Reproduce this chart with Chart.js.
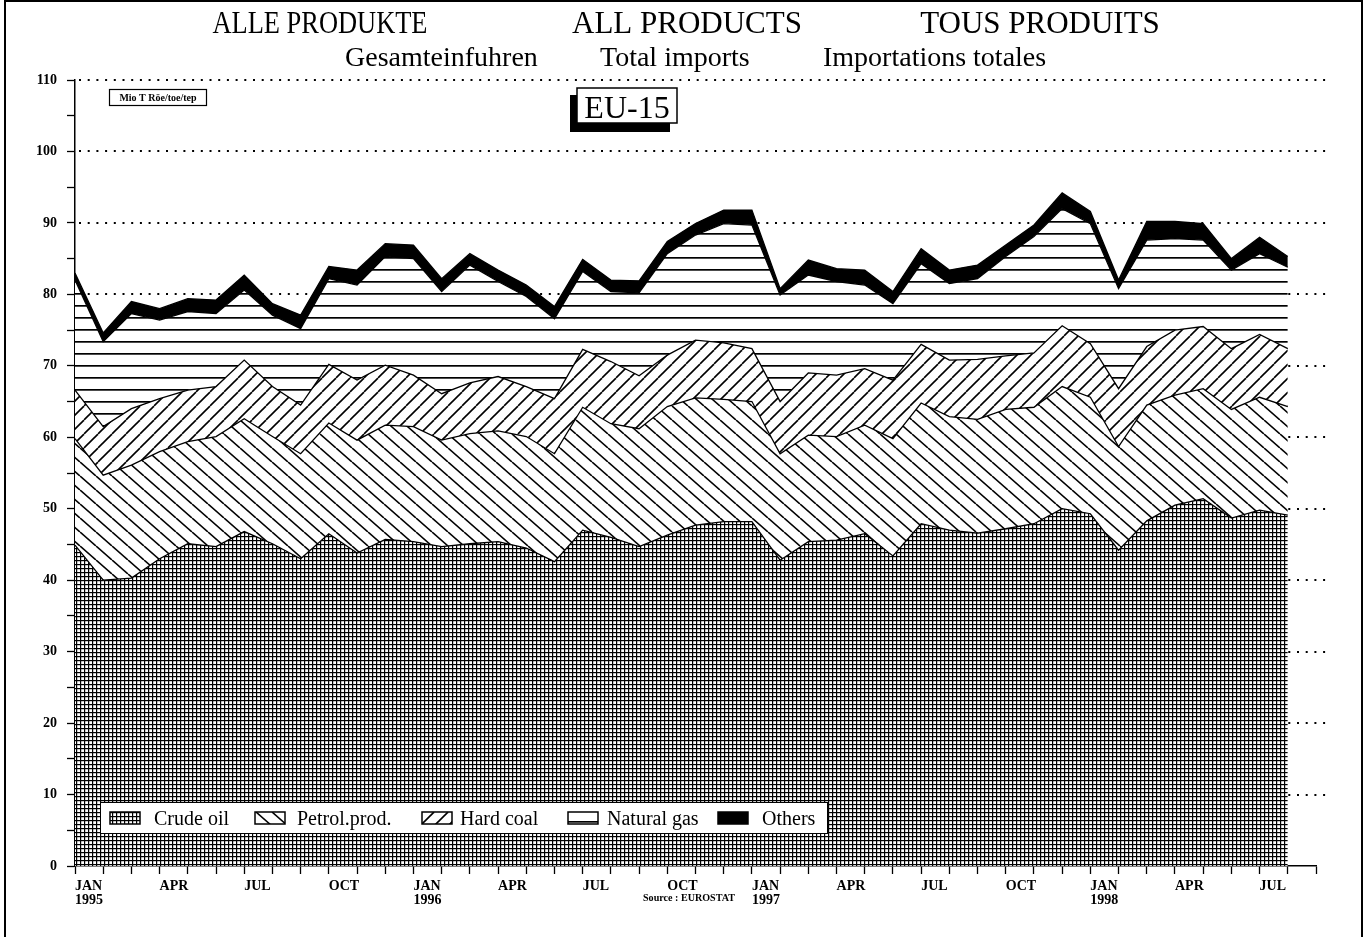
<!DOCTYPE html>
<html>
<head>
<meta charset="utf-8">
<script src="https://cdn.jsdelivr.net/npm/chart.js@4/dist/chart.umd.min.js"></script>
<style>
  html, body { margin: 0; padding: 0; background: #fff; }
  #chart { display: block; }
</style>
</head>
<body>
<canvas id="chart" width="1367" height="937"></canvas>
<script>
// series, Mio T (stacked, bottom to top), monthly JAN 1995 .. AUG 1998
const categories = ['Crude oil', 'Petrol.prod.', 'Hard coal', 'Natural gas', 'Others'];
const crudeOil = [44.9, 40.0, 40.3, 43.0, 45.1, 44.7, 46.8, 45.1, 43.0, 46.5, 43.8, 45.7,
                  45.4, 44.7, 45.1, 45.4, 44.5, 42.6, 47.0, 46.0, 44.7, 46.3, 47.7, 48.2,
                  48.2, 42.8, 45.4, 45.6, 46.5, 43.4, 47.9, 47.0, 46.6, 47.2, 47.9, 50.0,
                  49.3, 44.2, 48.3, 50.5, 51.4, 48.7, 49.8, 49.1];
const petrolProd = [14.9, 14.7, 15.8, 15.0, 14.3, 15.4, 15.8, 15.0, 14.7, 15.5, 15.8, 16.0,
                    16.1, 14.9, 15.4, 15.5, 15.6, 15.1, 17.2, 15.9, 16.5, 18.0, 17.8, 17.1,
                    16.8, 14.9, 14.9, 14.5, 15.2, 16.4, 16.9, 15.9, 15.9, 16.7, 16.3, 17.1,
                    16.3, 14.5, 16.2, 15.4, 15.4, 15.2, 15.8, 15.2];
const hardCoal = [6.8, 6.8, 7.9, 7.4, 7.2, 7.0, 8.2, 7.0, 6.8, 8.2, 8.4, 8.4,
                  7.2, 6.5, 7.1, 7.6, 7.0, 7.7, 8.1, 8.7, 7.4, 7.2, 8.1, 7.9,
                  7.4, 7.3, 8.7, 8.6, 7.9, 8.2, 8.2, 7.9, 8.4, 7.5, 7.6, 8.5,
                  7.5, 8.1, 8.2, 9.1, 8.7, 8.5, 8.8, 8.1];
const naturalGas = [15.4, 11.9, 13.3, 11.0, 11.0, 10.2, 9.8, 10.0, 10.7, 12.0, 13.3, 15.2,
                    16.3, 14.3, 16.5, 13.3, 12.6, 11.2, 10.9, 9.8, 11.6, 14.2, 14.7, 16.7,
                    17.3, 14.9, 13.7, 13.1, 11.7, 10.7, 11.3, 10.7, 11.3, 13.9, 16.3, 16.4,
                    16.8, 14.0, 14.9, 12.8, 12.1, 11.0, 11.3, 11.4];
const others = [1.0, 1.2, 1.7, 1.6, 1.8, 1.9, 2.1, 1.6, 1.9, 1.7, 2.1, 1.8,
                1.9, 1.8, 1.6, 1.6, 1.6, 1.7, 1.7, 1.6, 1.7, 1.7, 1.6, 1.9,
                2.1, 0.9, 2.1, 1.8, 2.1, 1.7, 2.1, 1.9, 1.9, 1.6, 1.6, 2.2,
                1.7, 1.2, 2.6, 2.4, 2.3, 1.6, 2.3, 1.5];

// axis labels
const monthNames = ['JAN', 'FEB', 'MAR', 'APR', 'MAY', 'JUN', 'JUL', 'AUG', 'SEP', 'OCT', 'NOV', 'DEC'];
const yearLabels = ['1995', '1996', '1997', '1998'];
const quarterMonths = ['JAN', 'APR', 'JUL', 'OCT'];
const yMax = 110;

const serif = '"Liberation Serif", "Times New Roman", serif';

// 45 slots: 44 months of data plus one empty month at the end of the axis
const labels = [];
const xTickLabels = [];
for (let i = 0; i <= 44; i++) {
    const m = monthNames[i % 12];
    labels.push(m);
    if (!quarterMonths.includes(m)) xTickLabels.push('');
    else if (m === 'JAN') xTickLabels.push([m, yearLabels[Math.floor(i / 12)]]);
    else xTickLabels.push(m);
}

function makePattern(w, h, draw) {
    const c = document.createElement('canvas');
    c.width = w; c.height = h;
    const g = c.getContext('2d');
    g.fillStyle = '#fff';
    g.fillRect(0, 0, w, h);
    g.fillStyle = '#000';
    g.strokeStyle = '#000';
    draw(g, w, h);
    return g.createPattern(c, 'repeat');
}

const gridPat = makePattern(4, 4, g => {
    g.fillRect(0, 0, 4, 1.2);
    g.fillRect(0, 0, 1.2, 4);
});
const backPat = makePattern(16, 14, (g, w, h) => {
    g.lineWidth = 1.6;
    for (const dx of [-w, 0, w]) {
        g.beginPath(); g.moveTo(dx, 0); g.lineTo(dx + w, h); g.stroke();
    }
});
const fwdPat = makePattern(14, 14, (g, w, h) => {
    g.lineWidth = 1.6;
    for (const dx of [-w, 0, w]) {
        g.beginPath(); g.moveTo(dx, h); g.lineTo(dx + w, 0); g.stroke();
    }
});
const horizPat = makePattern(8, 12, g => {
    g.fillRect(0, 5, 8, 1.7);
});
const fills = [gridPat, backPat, fwdPat, horizPat, '#000'];
const series = [crudeOil, petrolProd, hardCoal, naturalGas, others];

const decor = {
    id: 'decor',
    beforeDatasetsDraw(chart) {
        const { ctx, chartArea, scales } = chart;
        ctx.save();
        ctx.strokeStyle = '#000';
        ctx.lineWidth = 2;
        ctx.setLineDash([2, 6.7]);
        for (let v = 10; v <= yMax; v += 10) {
            const y = Math.round(scales.y.getPixelForValue(v));
            ctx.beginPath();
            ctx.moveTo(chartArea.left + 4, y);
            ctx.lineTo(chartArea.right + 10, y);
            ctx.stroke();
        }
        ctx.restore();
    },
    afterDraw(chart) {
        const { ctx } = chart;
        ctx.save();
        ctx.fillStyle = '#000';
        ctx.strokeStyle = '#000';

        // frame
        ctx.lineWidth = 2;
        ctx.beginPath();
        ctx.moveTo(5, 940); ctx.lineTo(5, 1); ctx.lineTo(1362, 1); ctx.lineTo(1362, 940);
        ctx.stroke();

        // titles
        ctx.textBaseline = 'alphabetic';
        ctx.textAlign = 'center';
        ctx.font = '31px ' + serif;
        ctx.fillText('ALLE PRODUKTE', 320, 33, 215);
        ctx.fillText('ALL PRODUCTS', 687, 33, 238);
        ctx.fillText('TOUS PRODUITS', 1040, 33, 250);
        ctx.textAlign = 'left';
        ctx.font = '28px ' + serif;
        ctx.fillText('Gesamteinfuhren', 345, 66, 197);
        ctx.fillText('Total imports', 600, 66, 152);
        ctx.fillText('Importations totales', 823, 66, 228);

        // EU-15 box with shadow
        ctx.fillRect(570, 95, 100, 37);
        ctx.fillStyle = '#fff';
        ctx.fillRect(577, 88, 100, 35);
        ctx.fillStyle = '#000';
        ctx.lineWidth = 1.5;
        ctx.strokeRect(577, 88, 100, 35);
        ctx.textAlign = 'center';
        ctx.font = '32px ' + serif;
        ctx.fillText('EU-15', 627, 118);

        // unit box
        ctx.lineWidth = 1.2;
        ctx.strokeRect(109.5, 89.5, 97, 16);
        ctx.font = 'bold 10px ' + serif;
        ctx.fillText('Mio T Röe/toe/tep', 158, 101, 92);

        // legend
        ctx.fillStyle = '#fff';
        ctx.fillRect(100, 802, 727, 31);
        ctx.lineWidth = 1;
        ctx.strokeRect(100.5, 802.5, 727, 31);
        const iconX = [110, 255, 422, 568, 718];
        const textX = [154, 297, 460, 607, 762];
        ctx.font = '20px ' + serif;
        ctx.textAlign = 'left';
        chart.data.datasets.forEach((ds, k) => {
            ctx.fillStyle = ds.backgroundColor;
            ctx.fillRect(iconX[k], 812, 30, 12);
            ctx.lineWidth = 1.5;
            ctx.strokeRect(iconX[k], 812, 30, 12);
            ctx.fillStyle = '#000';
            ctx.fillText(ds.label, textX[k], 825);
        });

        // source
        ctx.font = 'bold 11px ' + serif;
        ctx.fillText('Source : EUROSTAT', 643, 901, 92);
        ctx.restore();
    }
};

new Chart(document.getElementById('chart').getContext('2d'), {
    type: 'line',
    data: {
        labels: labels,
        datasets: series.map((s, k) => ({
            label: categories[k],
            data: s,
            fill: k === 0 ? 'origin' : '-1',
            backgroundColor: fills[k],
            borderColor: '#000',
            borderWidth: 1.3,
            pointRadius: 0,
            tension: 0
        }))
    },
    options: {
        responsive: false,
        animation: false,
        devicePixelRatio: 1,
        layout: { padding: { top: 80, left: 0, right: 51, bottom: 0 } },
        plugins: { legend: { display: false }, tooltip: { enabled: false } },
        scales: {
            x: {
                type: 'category',
                offset: false,
                grid: { drawOnChartArea: false, color: '#000', tickLength: 8, tickWidth: 1.3 },
                border: { color: '#000', width: 1.5 },
                ticks: {
                    autoSkip: false,
                    maxRotation: 0,
                    align: 'start',
                    padding: 5,
                    color: '#000',
                    font: { family: serif, size: 14, weight: 'bold', lineHeight: 1.0 },
                    callback: (value, index) => xTickLabels[index]
                },
                afterFit: scale => { scale.height = 71; }
            },
            y: {
                stacked: true,
                min: 0,
                max: yMax,
                grid: { drawOnChartArea: false, color: '#000', tickLength: 8, tickWidth: 1.3 },
                border: { color: '#000', width: 1.5 },
                ticks: {
                    stepSize: 5,
                    padding: 10,
                    color: '#000',
                    font: { family: serif, size: 14, weight: 'bold' },
                    callback: v => (v % 10 === 0 ? String(v) : '')
                },
                afterFit: scale => { scale.width = 75; }
            }
        }
    },
    plugins: [decor]
});
</script>
</body>
</html>
